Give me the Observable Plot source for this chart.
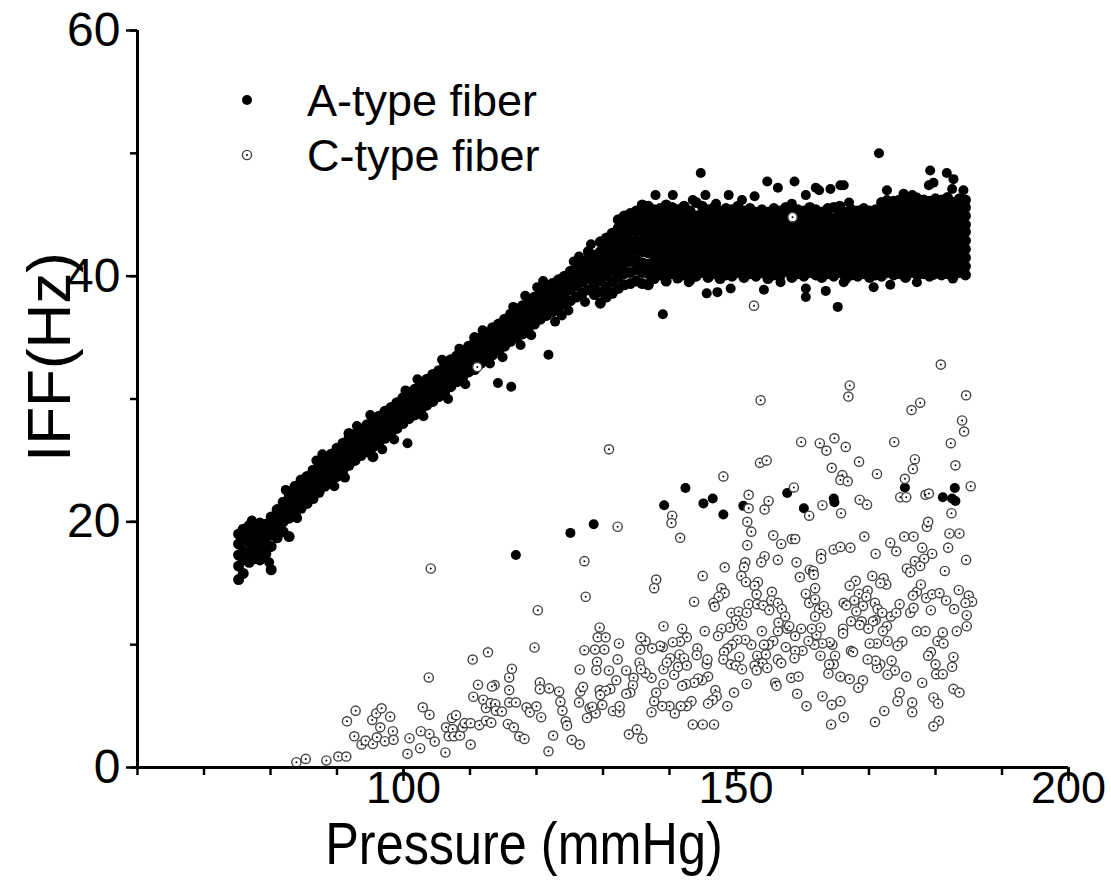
<!DOCTYPE html>
<html><head><meta charset="utf-8">
<script src="https://cdn.jsdelivr.net/npm/d3@7"></script>
<script src="https://cdn.jsdelivr.net/npm/@observablehq/plot@0.6"></script>
<style>
body{margin:0;background:#fff}
#wrap{position:relative;width:1111px;height:888px}
</style>
</head><body><div id="wrap"></div>
<script>
// ---- axis ticks ----
const xTicks = [60,70,80,90,100,110,120,130,140,150,160,170,180,190,200];
const xLabels = [100,150,200];
const yTicks = [0,10,20,30,40,50,60];
const yLabels = [0,20,40,60];
const xTitle = "Pressure (mmHg)";
const yTitle = "IFF(Hz)";
const seriesNames = ["A-type fiber","C-type fiber"];

// ---- A-type fiber: dense rising band, columns [pressure, IFF values...] ----
const aRising = [
[75.2,15.3,16.4,17.3,18.2,19.0],[75.9,15.8,16.9,17.6,18.5,19.4],[76.8,16.7,17.5,18.3,19.1,19.7],
[77.6,17.0,17.8,18.6,19.3],[78.4,16.9,17.7,18.5,19.2,19.9],[79.3,17.4,18.2,19.0,19.8],
[80.1,16.1,18.0,18.9,19.7,20.4],[81.0,18.7,19.5,20.3,21.0],[81.9,19.2,20.0,20.8,21.6],
[82.8,18.8,20.3,21.1,21.9,22.3],[83.7,20.6,21.4,22.2,22.9],[84.6,21.1,21.8,22.6,23.4],
[85.5,21.5,22.3,23.0,23.7],[86.4,21.9,22.7,23.5,24.2],[87.3,22.4,23.1,23.9,24.6],
[88.2,22.9,23.6,24.3,25.1],[89.1,23.4,24.1,24.8,25.5],[90.0,23.7,24.5,25.2,26.0],
[90.9,24.2,24.9,25.6,26.4],[91.8,24.6,25.3,26.0,26.8,27.2],[92.7,25.0,25.8,26.5,27.1],
[93.6,25.4,26.1,26.8,27.5],[94.5,25.7,26.5,27.2,27.9],[95.4,25.3,26.1,26.8,27.6,28.3],
[96.3,26.5,27.2,27.9,28.6],[97.2,26.8,27.6,28.3,29.0],[98.1,27.2,27.9,28.7,29.3],
[99.0,27.6,28.3,29.0,29.7],[99.9,28.0,28.7,29.4,30.1],[100.8,28.4,29.1,29.8,30.5],
[101.7,28.7,29.4,30.2,30.8],[102.6,29.1,29.8,30.5,31.2],[103.5,29.5,30.2,30.9,31.6],
[104.4,29.8,30.6,31.3,32.0],[105.3,30.2,31.0,31.7,32.3],[106.2,30.6,31.3,32.1,32.8],
[107.1,31.0,31.7,32.5,33.2],[108.0,31.4,32.1,32.8,33.5],[108.9,31.8,32.5,33.2,33.9],
[109.8,32.2,32.9,33.6,34.3],[110.7,32.4,33.2,33.9,34.6,35.0],[111.6,32.9,33.6,34.3,35.0],
[112.5,33.2,34.0,34.7,35.4],[113.4,33.6,34.4,35.1,35.8],[114.3,33.9,34.7,35.4,36.1],
[115.2,34.3,35.1,35.8,36.5],[116.1,34.7,35.5,36.2,36.9],[117.0,35.0,35.8,36.5,37.2],
[117.9,35.3,36.1,36.9,37.6],[118.8,35.8,36.5,37.2,37.9],[119.7,36.1,36.9,37.6,38.3],
[120.6,36.5,37.3,38.0,38.7],[121.5,36.8,37.6,38.3,39.0],[122.4,37.1,37.9,38.7,39.4],
[123.3,37.4,38.2,39.0,39.7],[124.2,37.8,38.6,39.3,40.0],[125.1,38.0,38.9,39.7,40.4],
[126.0,38.3,39.2,40.0,40.8],[126.9,38.6,39.5,40.3,41.1],[127.8,38.9,39.8,40.6,41.4,42.0],
[128.7,38.5,39.3,40.1,40.9,41.7],[129.6,37.8,38.7,39.6,40.4,41.2,42.0,42.8],
[130.5,38.3,39.1,40.0,40.8,41.6,42.4,43.1],[131.4,38.6,39.5,40.4,41.2,42.0,42.8,43.5],
[132.3,39.0,39.9,40.7,41.5,42.3,43.1,43.9,44.6],[133.2,39.3,40.2,41.0,41.8,42.6,43.4,44.2,44.9],
[134.1,39.4,40.3,41.2,42.0,42.8,43.6,44.4,45.1],[135.0,39.6,40.5,41.3,42.1,42.9,43.7,44.5,45.3],
[135.9,39.4,40.3,41.1,42.0,42.8,43.6,44.4,45.2,45.8],[136.8,39.3,40.2,41.0,41.9,42.7,43.5,44.3,45.1,45.7]
];
// ---- A-type fiber: plateau band ----
const aPlateau = [
[137.7,39.8,40.5,41.2,41.9,42.6,43.3,44.0,44.7,45.4],[138.6,40.1,40.7,41.4,42.0,42.7,43.4,44.1,44.8,45.5],
[139.5,39.6,40.3,41.0,41.7,42.4,43.1,43.8,44.5,45.2,45.8],[140.4,40.2,40.9,41.5,42.2,42.9,43.6,44.2,44.9,45.6],
[141.3,39.9,40.6,41.3,42.0,42.7,43.4,44.1,44.8,45.4],[142.2,40.1,40.7,41.4,42.1,42.8,43.5,44.2,44.9,45.7],
[143.1,39.7,40.4,41.1,41.8,42.5,43.2,43.9,44.6,45.3],[144.0,40.0,40.7,41.4,42.1,42.8,43.5,44.2,44.9,46.0],
[144.9,40.3,40.9,41.6,42.3,43.0,43.7,44.4,45.1,45.7],[145.8,39.9,40.5,41.2,41.9,42.6,43.3,44.0,44.7,45.4],
[146.7,40.2,40.8,41.5,42.2,42.9,43.6,44.3,45.0,45.6],[147.6,39.8,40.5,41.2,41.9,42.6,43.3,44.0,44.6,45.3],
[148.5,40.1,40.8,41.4,42.1,42.8,43.5,44.2,44.8,45.5],[149.4,40.0,40.6,41.3,42.0,42.7,43.4,44.1,44.8,45.4],
[150.3,40.3,41.0,41.6,42.3,43.0,43.7,44.4,45.0,45.7],[151.2,39.9,40.6,41.3,42.0,42.7,43.3,44.0,44.7,45.3],
[152.1,40.2,40.9,41.5,42.2,42.9,43.6,44.2,44.9,45.5],[153.0,40.0,40.7,41.4,42.1,42.7,43.4,44.1,44.7,45.2],
[153.9,40.3,40.9,41.6,42.3,42.9,43.6,44.3,44.9,45.4],[154.8,39.8,40.5,41.2,41.9,42.6,43.2,43.9,44.6,45.2],
[155.7,40.1,40.8,41.5,42.1,42.8,43.5,44.1,44.8,45.5],[156.6,40.0,40.7,41.3,42.0,42.7,43.4,44.0,44.7,45.3],
[157.5,40.4,41.0,41.7,42.4,43.0,43.7,44.4,45.0,45.6],[158.4,39.9,40.6,41.3,41.9,42.6,43.3,43.9,44.6,45.2],
[159.3,40.2,40.8,41.5,42.2,42.8,43.5,44.2,44.8,45.4],[160.2,40.0,40.6,41.3,42.0,42.6,43.3,44.0,44.6,45.3],
[161.1,40.3,40.9,41.6,42.3,42.9,43.6,44.3,44.9,45.6],[162.0,40.1,40.7,41.4,42.1,42.7,43.4,44.1,44.7,45.4],
[162.9,39.9,40.5,41.2,41.9,42.5,43.2,43.9,44.5,45.2],[163.8,40.2,40.9,41.5,42.2,42.9,43.5,44.2,44.9,45.5],
[164.7,40.0,40.7,41.3,42.0,42.7,43.3,44.0,44.7,45.6],[165.6,40.3,41.0,41.6,42.3,43.0,43.6,44.3,45.0,45.7],
[166.5,39.8,40.5,41.2,41.8,42.5,43.2,43.8,44.5,45.2],[167.4,40.1,40.8,41.4,42.1,42.8,43.4,44.1,44.8,45.4],
[168.3,40.0,40.6,41.3,42.0,42.6,43.3,44.0,44.6,45.3],[169.2,40.2,40.9,41.6,42.2,42.9,43.6,44.2,44.9,45.5],
[170.1,39.9,40.6,41.3,41.9,42.6,43.3,43.9,44.6,45.3],[171.0,40.1,40.8,41.4,42.1,42.8,43.4,44.1,44.8,45.4],
[171.9,40.0,40.7,41.3,42.0,42.7,43.4,44.0,44.7,45.4,46.0],[172.8,40.3,40.9,41.6,42.3,42.9,43.6,44.3,44.9,45.6],
[173.7,40.1,40.8,41.5,42.1,42.8,43.5,44.2,44.8,45.5,46.1],[174.6,40.2,40.9,41.5,42.2,42.9,43.6,44.2,44.9,45.6,46.2],
[175.5,39.9,40.6,41.3,42.0,42.7,43.3,44.0,44.7,45.4,46.0],[176.4,40.3,41.0,41.7,42.3,43.0,43.7,44.4,45.0,45.7,46.3],
[177.3,40.1,40.8,41.4,42.1,42.8,43.5,44.1,44.8,45.5,46.1],[178.2,40.2,40.9,41.6,42.2,42.9,43.6,44.3,44.9,45.6,46.2],
[179.1,40.0,40.7,41.4,42.0,42.7,43.4,44.1,44.7,45.4,46.1],[180.0,40.3,41.0,41.6,42.3,43.0,43.7,44.3,45.0,45.7,46.3],
[180.9,40.1,40.8,41.5,42.1,42.8,43.5,44.2,44.8,45.5,46.2],[181.8,40.2,40.9,41.6,42.3,42.9,43.6,44.3,45.0,45.7,46.4],
[182.7,40.0,40.7,41.3,42.0,42.7,43.4,44.0,44.7,45.4,46.0],[183.6,40.3,41.0,41.6,42.3,43.0,43.7,44.4,45.0,45.7,46.3],
[184.5,40.1,40.8,41.5,42.2,42.9,43.6,44.2,44.9,45.6,46.2]
];
// ---- A-type fiber: ragged edge points of the rising band ----
const aEdge = [
[84.0,20.3],[86.9,25.0],[89.6,22.9],[93.0,27.8],[96.8,25.9],[100.3,30.7],[103.0,28.6],[105.8,33.2],
[109.3,31.2],[111.9,35.6],[114.9,33.4],[118.3,38.4],[119.2,35.2],[121.0,39.6],[123.8,36.8],[126.4,41.6],
[124.8,37.2],[128.2,42.6],[77.2,20.1],[79.8,16.7],[82.3,22.6],[87.8,25.5],[91.2,23.6],[95.0,28.7],
[98.6,26.7],[102.1,31.6],[106.7,30.0],[108.4,34.1],[113.0,32.9],[116.5,37.5],[117.6,34.4],[120.1,39.1],
[122.8,36.3],[125.6,41.2],[127.3,37.9]
];
// ---- A-type fiber: scattered points ----
const aScatter = [
[137.9,46.6],[140.5,46.6],[143.5,46.2],[144.7,48.4],[145.4,46.6],[147.0,45.9],[148.9,46.6],[150.9,46.2],
[152.8,46.5],[154.7,47.7],[156.3,47.2],[158.8,47.7],[158.4,45.9],[160.5,46.6],[162.0,47.2],[162.5,47.0],
[164.2,47.1],[165.7,47.4],[166.2,47.4],[167.0,46.0],[171.5,50.0],[172.7,47.0],[172.7,46.2],[175.2,46.7],
[176.5,46.6],[177.2,46.4],[179.0,47.4],[179.2,48.6],[179.7,47.6],[181.7,48.4],[182.5,47.1],[182.7,47.9],[184.2,47.0],
[136.9,39.4],[139.0,36.9],[141.2,39.8],[142.9,39.5],[145.6,38.6],[147.2,38.7],[149.2,39.0],[154.2,38.9],
[156.7,39.5],[160.5,39.0],[160.5,38.3],[163.5,38.8],[165.3,37.5],[166.2,39.5],[170.7,39.1],[173.2,39.3],
[177.2,39.5],[179.7,40.1],[182.6,39.8],
[100.6,26.4],[114.2,31.3],[116.2,31.0],[121.8,33.6],
[116.9,17.3],[125.1,19.1],[128.6,19.8],[139.2,21.35],[142.4,22.75],[145.1,21.5],[146.5,21.9],[148.1,20.6],
[151.1,21.3],[157.7,22.35],[160.2,21.1],[164.7,21.9],[164.8,21.6],[175.4,22.8],[181.1,22.0],[182.5,21.9],
[183.0,21.7],[182.9,22.75]
];
// ---- C-type fiber points [pressure, IFF] ----
const cPoints = [
[83.9,0.43],[85.3,0.70],[88.4,0.57],[90.2,0.89],[91.4,0.89],[91.5,3.76],[92.8,4.63],[92.6,2.54],[93.7,1.87],
[94.3,2.19],[95.3,3.87],[95.4,1.92],[95.9,4.41],[96.7,4.82],[96.5,3.27],[96.0,2.46],[97.2,2.14],[98.0,4.14],
[98.4,2.95],[98.5,2.25],[100.6,1.11],[100.9,2.38],
[102.5,1.57],[102.6,2.95],[103.9,2.73],[104.7,2.11],[102.9,4.90],[103.9,4.30],[103.8,7.33],[104.1,16.2],
[106.3,1.22],[106.4,3.27],[106.8,2.54],[107.4,3.13],[107.3,4.03],[107.9,4.26],[107.6,2.54],[108.5,2.60],
[108.9,3.27],[109.2,3.61],[110.1,3.61],[110.1,1.87],[111.4,3.45],[110.5,5.76],[110.4,8.79],[112.7,9.38],
[111.2,6.74],[112.0,5.52],[112.4,4.84],[113.1,5.24],[113.8,5.17],[113.7,6.71],[113.3,6.60],[113.9,4.63],
[114.8,4.55],[112.4,3.81],[113.2,3.65],[115.7,3.54],[116.6,3.27],[117.4,2.54],[118.2,2.33],[115.9,5.30],
[116.9,5.30],[115.9,6.30],[115.9,7.33],[116.3,8.04],[118.5,4.90],[119.0,4.49],[120.0,4.98],[120.7,4.09],
[120.5,6.93],[120.5,6.38],[121.9,6.44],[123.4,6.19],[123.6,5.36],[123.9,4.63],[124.4,3.76],[124.6,3.41],
[122.5,2.60],[121.8,1.32],[125.3,2.25],[126.5,1.87],[119.7,9.77],[120.2,12.8],[126.4,5.30],[126.6,6.19],
[127.0,6.57],[126.5,7.98],[127.2,9.55],[128.8,9.60],[129.1,8.60],[129.0,7.93],[128.0,4.84],[127.6,4.03],
[128.9,4.41],[127.2,16.8],[127.4,13.9],[129.5,11.4],[129.2,10.6],[129.5,6.3],
[151.7,18.1],[156.8,18.2],[154.3,17.2],[153.8,16.7],[156.3,16.9],[151.4,16.7],[151.2,16.3],[148.3,16.3],
[145.0,15.6],[150.8,15.6],[151.5,15.1],[153.3,15.1],[152.8,14.8],[138.0,15.3],[137.7,14.6],[147.8,14.6],
[148.3,14.2],[147.4,13.9],[146.6,13.4],[146.8,13.1],[143.7,13.5],[153.1,14.1],[155.4,14.3],[155.3,13.6],
[156.3,13.4],[151.9,13.3],[153.2,13.3],[154.1,13.2],[155.0,12.8],[156.9,12.9],[157.4,12.3],[149.3,12.6],
[150.4,12.7],[151.6,12.6],[150.0,12.0],[150.9,11.6],[149.1,11.4],[147.8,11.3],[147.3,10.7],[145.3,11.1],
[141.9,11.3],[142.6,10.6],[139.1,11.5],[153.9,11.1],[156.3,11.1],[156.4,11.8],[157.7,11.3],[155.6,10.3],
[154.9,10.0],[154.2,10.0],[152.3,10.0],[151.4,10.4],[150.2,10.4],[149.4,10.0],[148.7,9.7],[148.2,9.4],
[150.5,9.0],[148.1,8.8],[149.2,8.4],[150.0,8.3],[150.9,8.0],[153.2,9.1],[153.5,8.5],[152.8,8.3],[153.1,7.9],
[154.0,8.5],[154.5,9.2],[154.7,8.1],[156.3,8.8],[156.8,8.5],[157.5,9.8],[158.3,7.3],[155.9,6.9],[156.1,6.65],
[151.6,6.8],[149.7,6.1],[148.7,5.0],[146.9,6.3],[147.1,5.8],[146.5,5.5],[145.8,5.2],[145.8,7.4],[144.9,7.1],
[144.3,7.25],[143.7,6.9],[145.6,8.4],[145.7,8.8],[144.2,9.7],[144.1,9.15],[142.5,6.8],[141.9,6.65],[143.3,5.4],
[142.6,5.0],[141.7,5.0],[140.8,4.4],[140.0,5.0],[138.9,5.0],[137.7,5.4],[138.0,6.1],[139.1,6.8],[140.7,7.55],
[139.1,8.0],[140.1,8.9],[139.6,8.55],[141.3,8.2],[141.5,9.2],[142.2,8.9],[142.6,8.3],[141.6,10.25],[140.5,10.2],
[139.0,9.8],[138.6,9.9],[137.4,9.7],[136.4,10.3],[135.7,10.6],[135.6,9.6],[137.3,7.3],[136.4,7.7],[135.5,8.55],
[135.7,8.0],[134.6,7.3],[134.5,6.7],[133.5,7.9],[134.1,6.1],[133.5,6.0],[137.3,4.5],[132.4,10.1],[132.2,8.8],
[130.4,10.6],[130.2,9.6],[130.9,7.9],[132.0,7.1],[131.1,6.4],[130.4,6.25],[129.6,5.9],[129.9,5.1],[128.4,4.95],
[131.5,4.6],[132.5,4.5],[132.5,5.0],[133.9,2.7],[135.1,3.1],[135.9,2.35],[143.5,3.5],[145.0,3.5],[146.7,3.5],
[159.1,16.7],[159.6,15.5],[161.1,16.1],[161.6,16.0],[161.7,15.7],[162.8,17.4],[162.8,17.0],[164.7,17.75],
[165.7,17.96],[167.2,17.9],[171.0,17.4],[174.1,17.6],[178.0,17.9],[179.5,17.4],[181.9,17.9],[178.3,17.0],
[176.9,16.8],[177.7,16.4],[175.7,16.2],[176.2,15.9],[181.4,16.0],[184.6,16.9],[170.5,15.6],[172.2,15.4],
[172.6,14.9],[171.7,15.0],[168.0,15.2],[167.1,14.8],[169.8,14.4],[168.5,14.15],[169.6,13.9],[167.8,13.6],
[166.2,13.4],[166.6,13.2],[169.1,13.15],[168.1,12.7],[170.9,13.4],[171.3,12.9],[172.0,12.6],[171.0,12.0],
[170.6,11.9],[168.9,11.9],[167.3,11.9],[168.6,11.6],[169.9,11.3],[172.7,11.5],[172.1,11.1],[173.3,12.3],
[174.1,12.6],[174.6,13.3],[176.2,12.6],[176.7,13.0],[177.2,14.3],[176.6,14.0],[177.8,14.9],[178.6,13.8],
[179.5,14.1],[180.6,14.2],[181.6,13.6],[183.5,14.45],[182.8,12.9],[179.3,12.8],[185.0,14.0],[185.5,13.5],
[184.5,13.4],[184.7,12.4],[184.7,11.5],[183.2,11.1],[181.1,11.0],[177.2,11.1],[178.5,11.1],[180.3,10.3],
[181.2,10.1],[179.3,9.4],[178.9,9.1],[182.7,9.0],[180.0,8.4],[182.5,8.2],[180.1,7.6],[181.1,7.6],[178.0,6.9],
[175.6,7.4],[175.0,10.25],[174.3,9.9],[172.8,10.3],[171.2,10.1],[170.1,10.1],[173.4,8.7],[173.9,7.9],[172.8,7.55],
[171.7,8.4],[171.2,8.1],[171.0,8.7],[169.8,8.8],[167.3,9.5],[167.6,9.4],[164.9,9.1],[164.7,8.4],[164.0,8.4],
[163.9,7.65],[165.7,7.4],[167.1,7.2],[169.1,7.1],[168.4,6.5],[164.5,10.0],[164.1,10.2],[162.7,9.1],[162.1,10.8],
[163.0,10.1],[161.8,10.0],[160.9,10.3],[160.0,9.5],[158.9,9.5],[158.8,8.9],[162.7,11.4],[161.4,11.3],[159.8,11.3],
[158.9,10.7],[158.0,11.5],[166.1,11.3],[166.1,10.9],[162.5,12.9],[163.7,12.6],[161.9,12.3],[161.0,13.4],
[161.9,13.7],[161.9,14.6],[160.5,14.15],[163.2,13.15],[159.4,7.4],[159.2,6.0],[160.6,5.0],[163.0,5.8],
[164.4,5.1],[165.7,5.4],[166.2,4.1],[164.3,3.5],[170.9,3.7],[172.3,4.6],[174.6,6.1],[174.3,5.4],[176.5,5.3],
[176.5,4.5],[179.7,5.7],[180.4,5.2],[182.7,6.4],[183.6,6.1],[180.5,3.8],[179.7,3.35],
[153.7,29.9],[130.9,25.9],[132.2,19.6],[140.4,20.5],[140.3,19.9],[141.6,18.7],[148.1,23.7],[153.6,24.8],
[154.6,25.0],[151.9,22.2],[154.9,21.7],[154.3,21.0],[151.9,21.1],[151.7,20.0],[152.3,19.2],[155.6,18.9],
[180.8,32.8],[167.1,31.1],[166.9,30.2],[184.6,30.3],[177.7,29.7],[176.4,29.1],[184.0,28.25],[184.3,27.35],
[159.8,26.5],[162.6,26.4],[163.6,25.8],[164.8,26.8],[166.5,26.1],[173.8,26.5],[182.3,26.4],[168.5,24.9],
[164.4,24.4],[166.0,23.8],[165.7,23.4],[166.8,23.3],[171.2,23.9],[176.9,25.1],[176.6,24.3],[183.0,24.6],
[185.3,22.9],[175.4,23.5],[174.7,22.0],[175.6,22.0],[178.5,22.2],[179.0,22.3],[158.7,22.8],[161.0,20.5],
[163.0,21.35],[168.6,21.8],[169.7,21.4],[165.8,20.7],[182.4,20.7],[178.7,19.6],[178.9,20.0],[182.1,19.05],
[183.6,19.05],[175.3,18.8],[176.7,18.8],[169.3,18.8],[173.2,18.3],[158.4,18.6],[158.9,18.6],
[111.1,32.6],[158.5,44.8],[152.7,37.6]
];

// ---- build tables ----
const bandData = [
  ...aRising.flatMap(([x,...ys]) => ys.map(y => ({x,y}))),
  ...aPlateau.flatMap(([x,...ys]) => ys.map(y => ({x,y})))
];
const looseData = [
  ...aEdge.map(([x,y]) => ({x,y})),
  ...aScatter.map(([x,y]) => ({x,y}))
];
const cData = cPoints.map(([x,y]) => ({x,y}));

const FONT = "'Liberation Sans', Arial, sans-serif";

const chart = Plot.plot({
  width: 1111, height: 888,
  marginLeft: 137, marginRight: 43, marginTop: 30, marginBottom: 121,
  style: {fontFamily: FONT, fontSize: "45px", color: "black", background: "white", overflow: "visible"},
  x: {domain: [60, 200]},
  y: {domain: [0, 60]},
  marks: [
    Plot.dot(bandData, {x: "x", y: "y", r: 5.5, fill: "black", stroke: "none"}),
    Plot.dot(looseData, {x: "x", y: "y", r: 5, fill: "black", stroke: "none"}),
    Plot.dot(cData, {x: "x", y: "y", r: 4.6, fill: "white", stroke: "#444", strokeWidth: 1.4}),
    Plot.dot(cData, {x: "x", y: "y", r: 1, fill: "black", stroke: "none"}),
    // axes: minor + major ticks, labels
    Plot.axisX({ticks: xTicks, tickSize: 8, strokeWidth: 2.5, tickFormat: () => "", label: null}),
    Plot.axisX({ticks: xLabels, tickSize: 14, strokeWidth: 2.5, tickFormat: () => "", label: null}),
    Plot.axisX({ticks: xLabels, tickSize: 0, tickPadding: 4, fontSize: 45, tickFormat: d => String(d), label: null}),
    Plot.axisY({ticks: yTicks, tickSize: 7, strokeWidth: 2.5, tickFormat: () => "", label: null}),
    Plot.axisY({ticks: yLabels, tickSize: 11, strokeWidth: 2.5, tickPadding: 6, fontSize: 48, tickFormat: d => String(d), label: null}),
    Plot.ruleY([0], {stroke: "black", strokeWidth: 3}),
    Plot.ruleX([60], {y1: 0, y2: 60, stroke: "black", strokeWidth: 3})
  ]
});
document.getElementById("wrap").appendChild(chart);

const svg = d3.select(chart);
// ---- axis titles ----
svg.append("text").attr("transform", "translate(524,864) scale(0.84,1)")
  .attr("text-anchor", "middle").attr("font-family", FONT).attr("font-size", 60).attr("fill", "black").text(xTitle);
svg.append("text").attr("transform", "translate(70,357) rotate(-90)")
  .attr("text-anchor", "middle").attr("font-family", FONT).attr("font-size", 62).attr("fill", "black").text(yTitle);

// ---- legend (inside plot area, top-left) ----
const lg = svg.append("g").attr("font-family", FONT).attr("font-size", 45).attr("fill", "black").attr("text-anchor", "start");
const rows = [{name: seriesNames[0], y: 100}, {name: seriesNames[1], y: 155}];
lg.append("circle").attr("cx", 247).attr("cy", rows[0].y).attr("r", 5).attr("fill", "black");
lg.append("circle").attr("cx", 247).attr("cy", rows[1].y).attr("r", 4.6).attr("fill", "white").attr("stroke", "#444").attr("stroke-width", 1.4);
lg.append("circle").attr("cx", 247).attr("cy", rows[1].y).attr("r", 1).attr("fill", "black");
rows.forEach(r => lg.append("text").attr("x", 307).attr("y", r.y).attr("dy", "0.35em").text(r.name));
</script>
</body></html>
